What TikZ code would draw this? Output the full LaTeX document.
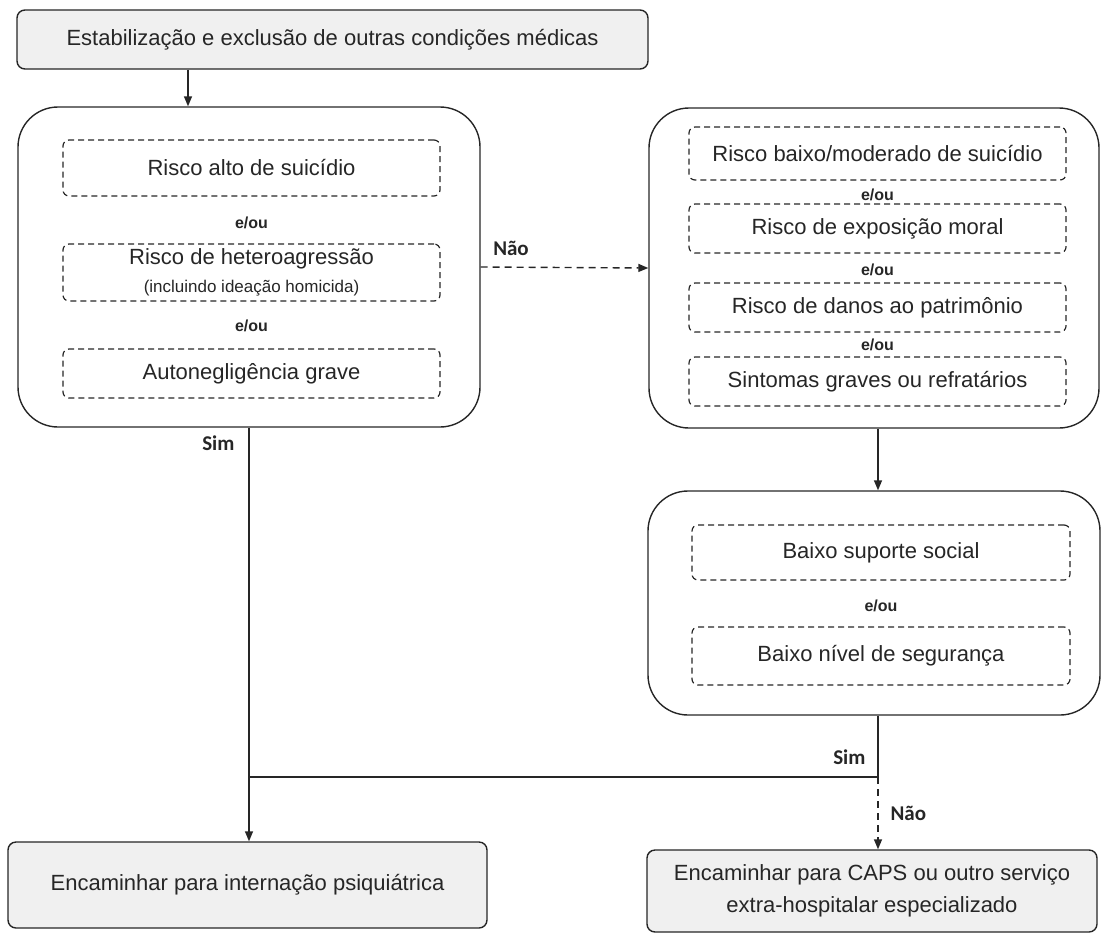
\documentclass[tikz,border=0pt]{standalone}
\usepackage{fontspec}
\setmainfont{Liberation Sans}
\newfontfamily\labelfont{Carlito}
\usetikzlibrary{arrows.meta}
\begin{document}
\begin{tikzpicture}[x=1pt,y=-1pt,color=black!85,
    every node/.style={font=\fontsize{22}{26}\selectfont},
    outcome/.style={draw,fill=black!6,rounded corners=8pt,line width=1.4pt,inner sep=0pt,align=center},
    group/.style={draw,rounded corners=40pt,line width=1.4pt,inner sep=0pt},
    crit/.style={draw,dash pattern=on 6pt off 4pt,rounded corners=6pt,line width=1.2pt,inner sep=0pt,align=center,minimum width=377pt},
    andor/.style={font=\fontsize{16}{18}\selectfont\bfseries},
    answer/.style={font=\labelfont\fontsize{21}{24}\selectfont\bfseries},
    flow/.style={line width=1.4pt,-{Triangle[length=10pt,width=8pt]}},
    optional/.style={dash pattern=on 7pt off 5pt}]
        \useasboundingbox (0,0) rectangle (1105,935);
        \node[outcome,minimum width=631pt,minimum height=59pt] (start) at (332.5,39.5) {Estabilização e exclusão de outras condições médicas};
        \node[group,minimum width=462pt,minimum height=320pt] (high) at (249,267) {};
        \node[crit,minimum height=56pt] (suicide) at (251.5,168) {Risco alto de suicídio};
        \node[andor] (or1) at (251.5,223) {e/ou};
        \node[crit,minimum height=57pt] (hetero) at (251.5,272.5) {Risco de heteroagressão\\[2pt]{\fontsize{17}{19}\selectfont(incluindo ideação homicida)}};
        \node[andor] (or2) at (251.5,326) {e/ou};
        \node[crit,minimum height=49pt] (neglect) at (251.5,373.5) {Autonegligência grave};
        \node[group,minimum width=450pt,minimum height=320pt] (moderate) at (874,268) {};
        \node[crit,minimum height=53pt] (lowsuicide) at (877.5,153.5) {Risco baixo/moderado de suicídio};
        \node[andor] (or3) at (877.5,195) {e/ou};
        \node[crit,minimum height=49pt] (moral) at (877.5,228.5) {Risco de exposição moral};
        \node[andor] (or4) at (877.5,270) {e/ou};
        \node[crit,minimum height=49pt] (property) at (877.5,307.5) {Risco de danos ao patrimônio};
        \node[andor] (or5) at (877.5,345) {e/ou};
        \node[crit,minimum height=49pt] (symptoms) at (877.5,381.5) {Sintomas graves ou refratários};
        \node[group,minimum width=452pt,minimum height=224pt] (support) at (874,603) {};
        \node[crit,minimum width=378pt,minimum height=55pt] (social) at (881,552.5) {Baixo suporte social};
        \node[andor] (or6) at (881,606) {e/ou};
        \node[crit,minimum width=378pt,minimum height=58pt] (safety) at (881,656) {Baixo nível de segurança};
        \node[outcome,minimum width=479pt,minimum height=86pt] (intern) at (247.5,885) {Encaminhar para internação psiquiátrica};
        \node[outcome,minimum width=450pt,minimum height=82pt] (caps) at (872,891) {Encaminhar para CAPS ou outro serviço\\[6pt]extra-hospitalar especializado};
        \coordinate (entry) at (188,0);
        \coordinate (leftx) at (249,0);
        \coordinate (rightx) at (878,0);
        \coordinate (join) at (878,777);
        \draw[flow] (entry |- start.south) -- (entry |- high.north);
        \draw[flow,optional] (high.east) -- (moderate.west);
        \draw[flow] (rightx |- moderate.south) -- (rightx |- support.north);
        \draw[flow] (leftx |- high.south) -- (leftx |- intern.north);
        \draw[line width=1.4pt] (rightx |- support.south) -- (join) -- (join -| leftx);
        \draw[flow,optional] (join) -- (join |- caps.north);
        \node[answer] (no1) at (511,248) {Não};
        \node[answer,anchor=east] (yes1) at (238,443) {Sim};
        \node[answer,anchor=east] (yes2) at (869,757) {Sim};
        \node[answer,anchor=west] (no2) at (887,813) {Não};
    \end{tikzpicture}
\end{document}
